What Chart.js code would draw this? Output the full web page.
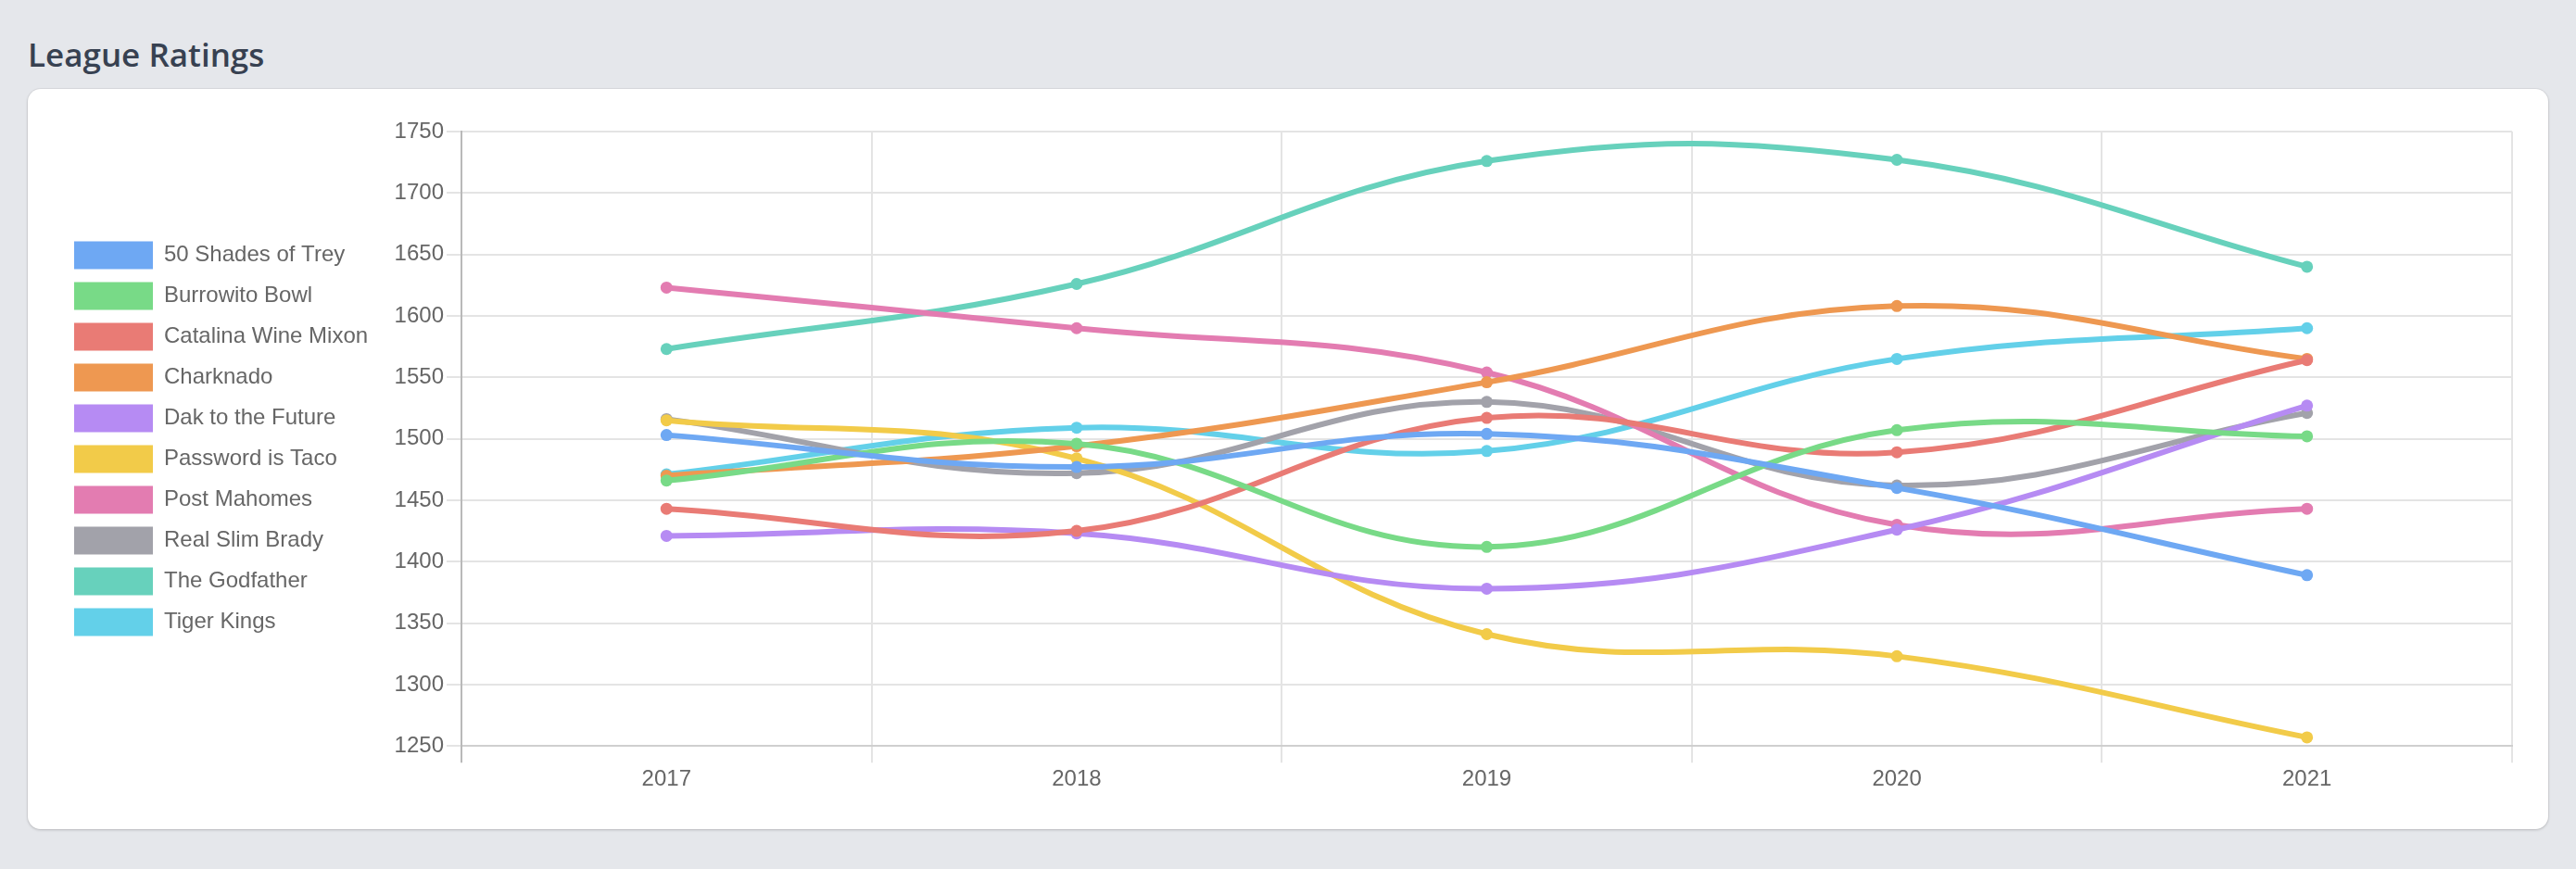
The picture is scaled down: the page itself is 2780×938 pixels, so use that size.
<!DOCTYPE html>
<html>
<head>
<meta charset="utf-8">
<title>League Ratings</title>
<script src="https://cdn.jsdelivr.net/npm/chart.js@4.4.0/dist/chart.umd.min.js"></script>
<style>
  html, body { margin: 0; padding: 0; }
  body {
    width: 2780px; height: 938px;
    background: #e5e7eb;
    position: relative;
    overflow: hidden;
  }
  h2 {
    position: absolute; left: 30px; top: 35px; margin: 0;
    font-family: "Open Sans", "Noto Sans", sans-serif;
    font-weight: 600; font-size: 35px; line-height: 48px;
    color: #374151;
  }
  .card {
    position: absolute; left: 30px; top: 96px;
    width: 2720px; height: 799px;
    background: #fff;
    border-radius: 14px;
    box-shadow: 0 1px 3px rgba(0,0,0,0.18), 0 0 0 1px rgba(0,0,0,0.04);
  }
  canvas { position: absolute; left: 0; top: 0; }
</style>
</head>
<body>
<h2>League Ratings</h2>
<div class="card">
  <canvas id="ratings" width="2720" height="799"></canvas>
</div>
<script>
// seasons on the x axis
const years = ["2017", "2018", "2019", "2020", "2021"];

// team names, legend order
const teams = [
  "50 Shades of Trey",
  "Burrowito Bowl",
  "Catalina Wine Mixon",
  "Charknado",
  "Dak to the Future",
  "Password is Taco",
  "Post Mahomes",
  "Real Slim Brady",
  "The Godfather",
  "Tiger Kings"
];

// ratings per team, one value per season
const shadesOfTrey   = [1503, 1477, 1504, 1460, 1389];
const burrowitoBowl  = [1466, 1496, 1412, 1507, 1502];
const catalinaWine   = [1443, 1425, 1517, 1489, 1564];
const charknado      = [1470, 1494, 1546, 1608, 1565];
const dakFuture      = [1421, 1423, 1378, 1426, 1527];
const passwordTaco   = [1515, 1484, 1341, 1323, 1257];
const postMahomes    = [1623, 1590, 1554, 1430, 1443];
const realSlimBrady  = [1516, 1472, 1530, 1462, 1521];
const theGodfather   = [1573, 1626, 1726, 1727, 1640];
const tigerKings     = [1471, 1509, 1490, 1565, 1590];

const ratings = [
  shadesOfTrey, burrowitoBowl, catalinaWine, charknado, dakFuture,
  passwordTaco, postMahomes, realSlimBrady, theGodfather, tigerKings
];

// y axis ticks
const yMin = 1250;
const yMax = 1750;
const yStep = 50;

const colors = [
  "#6ea8f3", "#78da87", "#e97b75", "#ee9851", "#b68bf3",
  "#f2cb49", "#e37cb1", "#a2a2aa", "#67d1bc", "#63d0e9"
];

Chart.defaults.font.family = "'Helvetica Neue', Helvetica, Arial, 'Liberation Sans', sans-serif";
Chart.defaults.font.size = 24;
Chart.defaults.color = "#666";

const datasets = teams.map((name, i) => ({
  label: name,
  data: ratings[i],
  borderColor: colors[i],
  backgroundColor: colors[i],
  pointBackgroundColor: colors[i],
  pointBorderColor: colors[i],
  borderWidth: 6,
  pointRadius: 6.5,
  pointBorderWidth: 0,
  tension: 0.4,
  fill: false
}));

const ctx = document.getElementById("ratings").getContext("2d");
new Chart(ctx, {
  type: "line",
  data: { labels: years, datasets: datasets },
  options: {
    responsive: false,
    animation: false,
    devicePixelRatio: 1,
    layout: { padding: { top: 46, right: 39, bottom: 35, left: 36 } },
    plugins: {
      legend: {
        position: "left",
        fullSize: false,
        labels: {
          boxWidth: 85,
          boxHeight: 30,
          padding: 14,
          color: "#666",
          font: { size: 24 },
          // plain filled boxes, no thick outline
          generateLabels: (chart) =>
            Chart.defaults.plugins.legend.labels.generateLabels(chart)
              .map((item) => ({ ...item, lineWidth: 0 }))
        }
      },
      tooltip: { enabled: false }
    },
    scales: {
      x: {
        offset: true,
        grid: {
          offset: true,
          tickLength: 18,
          lineWidth: 2,
          color: (c) => c.index === 0 ? "#b9b9b9" : "#e4e4e4"
        },
        border: { color: "#cfcfcf", width: 2 },
        ticks: { padding: 4, color: "#666" }
      },
      y: {
        min: yMin,
        max: yMax,
        ticks: {
          stepSize: yStep,
          padding: 3,
          color: "#666",
          callback: (v) => String(v)
        },
        grid: { tickLength: 16, lineWidth: 2, color: "#e4e4e4" },
        border: { color: "#b9b9b9", width: 2 },
        afterFit: (scale) => {
          const lw = (scale.chart.legend && scale.chart.legend.width) || 330;
          scale.width = 498 - 30 - 36 - lw;
        }
      }
    }
  }
});
</script>
</body>
</html>
